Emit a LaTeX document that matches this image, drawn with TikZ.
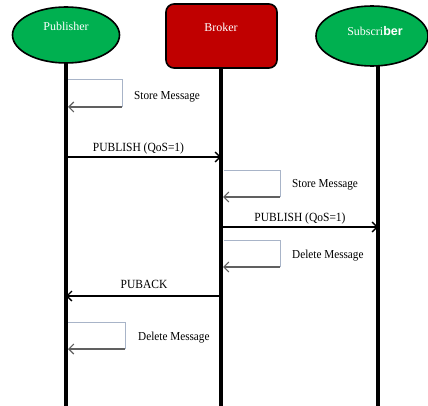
\documentclass[tikz,border=0pt]{standalone}
\usepackage{fontspec}
\setmainfont{Liberation Serif}
\newfontfamily\condfont[FakeStretch=0.92]{Liberation Serif}
\newfontfamily\berfont{Liberation Sans}
\usetikzlibrary{shapes.geometric,arrows.meta}
\definecolor{pgreen}{HTML}{00B050}
\definecolor{bred}{HTML}{C00000}
\definecolor{selfgray}{HTML}{A8B4C8}
\definecolor{selfdark}{HTML}{606060}
\begin{document}
\begin{tikzpicture}[x=1pt,y=-1pt,
  actorell/.style={ellipse,draw=black,line width=1.6pt,fill=pgreen,inner sep=0pt},
  actorbox/.style={rectangle,rounded corners=8pt,draw=black,line width=1.6pt,fill=bred,inner sep=0pt},
  actorlabel/.style={text=white,font=\fontsize{12}{13}\selectfont,anchor=base,inner sep=0pt},
  lifeline/.style={line width=3.5pt,black},
  msg/.style={line width=1.3pt,black,-{Straight Barb[length=5pt,width=10pt,line width=1.3pt]}},
  selfline/.style={line width=1pt,selfgray},
  selfarrow/.style={line width=1.2pt,selfdark,-{Straight Barb[length=5pt,width=10pt,line width=1.1pt]}},
  msglabel/.style={font=\condfont\fontsize{12.5}{13}\selectfont,anchor=base,inner sep=0pt},
  notelabel/.style={font=\condfont\fontsize{12.2}{13}\selectfont,anchor=base west,inner sep=0pt}]
\useasboundingbox (0,0) rectangle (428,406);

% actors
\node[actorell,minimum width=107pt,minimum height=56pt] (pub) at (66,35) {};
\node[actorlabel] (publab) at (66,31) {Publisher};
\node[actorbox,minimum width=111pt,minimum height=64pt] (bro) at (221.5,36) {};
\node[actorlabel] (brolab) at (221,32) {Broker};
\node[actorell,minimum width=112pt,minimum height=60pt] (sub) at (372,36) {};
\node[actorlabel] (sublab) at (375,36) {Subscri{\berfont\bfseries\fontsize{12.5}{13}\selectfont ber}};

% lifeline ends
\coordinate (pubtop) at (66,63);
\coordinate (pubbot) at (66,406);
\coordinate (brotop) at (221,68);
\coordinate (brobot) at (221,406);
\coordinate (subtop) at (378,65);
\coordinate (subbot) at (378,406);

\draw[lifeline] (pubtop) -- (pubbot);
\draw[lifeline] (brotop) -- (brobot);
\draw[lifeline] (subtop) -- (subbot);

% message anchors
\coordinate (p1) at (66,157);  \coordinate (b1) at (221,157);
\coordinate (b2) at (221,227); \coordinate (s2) at (378,227);
\coordinate (b3) at (221,296); \coordinate (p3) at (66,296);

% self message 1 (Publisher store)
\coordinate (sa1) at (68,80);  \coordinate (sb1) at (122,80);
\coordinate (sc1) at (122,107); \coordinate (sd1) at (68,107);
\draw[selfline] (sa1) -- (sb1) -- (sc1);
\draw[selfarrow] (sc1) -- (sd1);
\node[notelabel] (n1) at (134,100) {Store Message};

% PUBLISH 1
\draw[msg] (p1) -- (b1);
\node[msglabel] (l1) at (138.5,152) {PUBLISH (QoS=1)};

% self message 2 (Broker store)
\coordinate (sa2) at (224,171); \coordinate (sb2) at (280,171);
\coordinate (sc2) at (280,197); \coordinate (sd2) at (223,197);
\draw[selfline] (sa2) -- (sb2) -- (sc2);
\draw[selfarrow] (sc2) -- (sd2);
\node[notelabel] (n2) at (292,188) {Store Message};

% PUBLISH 2
\draw[msg] (b2) -- (s2);
\node[msglabel] (l2) at (300,221) {PUBLISH (QoS=1)};

% self message 3 (Broker delete)
\coordinate (sa3) at (224,240); \coordinate (sb3) at (280,240);
\coordinate (sc3) at (280,267); \coordinate (sd3) at (223,267);
\draw[selfline] (sa3) -- (sb3) -- (sc3);
\draw[selfarrow] (sc3) -- (sd3);
\node[notelabel] (n3) at (292,258) {Delete Message};

% PUBACK
\draw[msg] (b3) -- (p3);
\node[msglabel] (l3) at (144,288) {PUBACK};

% self message 4 (Publisher delete)
\coordinate (sa4) at (68,322); \coordinate (sb4) at (125,322);
\coordinate (sc4) at (125,349); \coordinate (sd4) at (68,349);
\draw[selfline] (sa4) -- (sb4) -- (sc4);
\draw[selfarrow] (sc4) -- (sd4);
\node[notelabel] (n4) at (138,340) {Delete Message};
\end{tikzpicture}
\end{document}
